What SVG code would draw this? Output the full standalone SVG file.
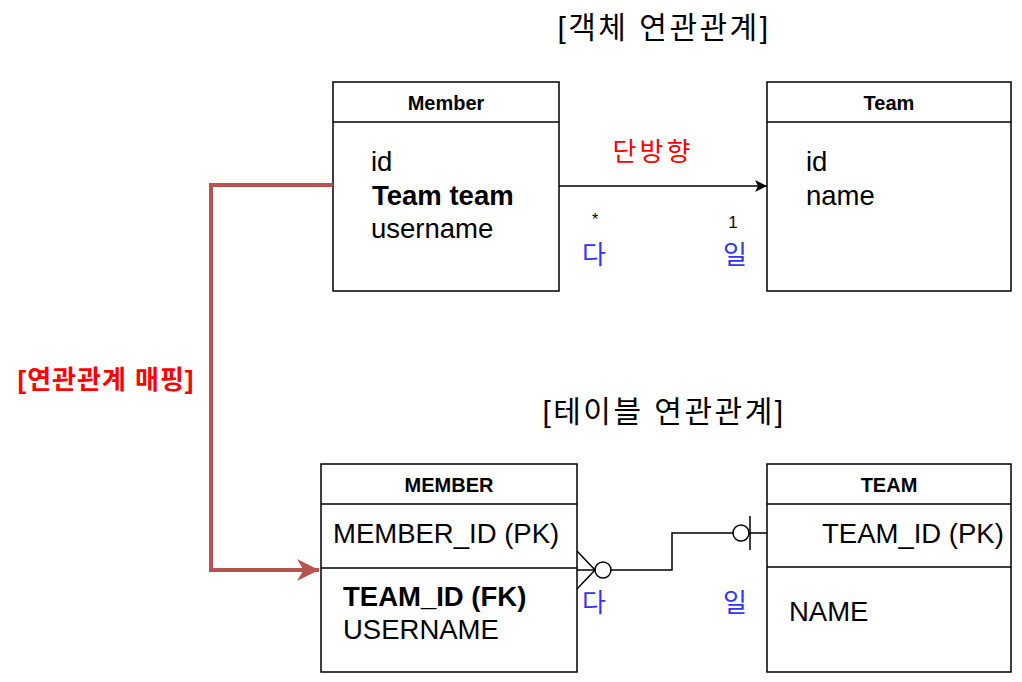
<svg xmlns="http://www.w3.org/2000/svg" width="1022" height="682" viewBox="0 0 1022 682">
<defs>
<style>
.box{fill:#fff;stroke:#000;stroke-width:1.5}
.ln{stroke:#000;stroke-width:1.5;fill:none}
.hd{font-family:"Liberation Sans",Arial,sans-serif;font-weight:bold;font-size:20px;text-anchor:middle;fill:#000}
.tx{font-family:"Liberation Sans",Arial,sans-serif;font-size:27.5px;fill:#000}
.b{font-weight:bold}
.kr{font-family:"Liberation Sans","Noto Sans CJK KR",sans-serif;font-size:26px}
.ttl{font-size:30px;letter-spacing:2.5px}
.blue{fill:#3333ff}
</style>
<marker id="ah" viewBox="0 0 10 10" refX="10" refY="5" markerWidth="12" markerHeight="12" markerUnits="userSpaceOnUse" orient="auto">
<path d="M0,0 L10,5 L0,10 L2.5,5 Z" fill="#000"/>
</marker>
<marker id="rah" viewBox="0 0 10 10" refX="10" refY="5" markerWidth="22" markerHeight="24" markerUnits="userSpaceOnUse" orient="auto">
<path d="M0,0 L10,5 L0,10 L3,5 Z" fill="#b85450"/>
</marker>
</defs>
<rect width="1022" height="682" fill="#fff"/>
<text class="kr ttl" x="664" y="38" text-anchor="middle" fill="#000">[객체 연관관계]</text>
<text class="kr ttl" x="664" y="422" text-anchor="middle" fill="#000">[테이블 연관관계]</text>
<text class="kr" x="106" y="389" text-anchor="middle" font-weight="bold" font-size="24" letter-spacing="1" fill="#ff0000">[연관관계 매핑]</text>
<g id="obj-member">
<rect class="box" x="333" y="82" width="226" height="209"/>
<line class="ln" x1="333" y1="122" x2="559" y2="122"/>
<text class="hd" x="446" y="110">Member</text>
<text class="tx" x="371" y="171">id</text>
<text class="tx b" x="372" y="205">Team team</text>
<text class="tx" x="371" y="238">username</text>
</g>
<g id="obj-team">
<rect class="box" x="767" y="82" width="244" height="209"/>
<line class="ln" x1="767" y1="122" x2="1011" y2="122"/>
<text class="hd" x="889" y="110">Team</text>
<text class="tx" x="806" y="171">id</text>
<text class="tx" x="806" y="205">name</text>
</g>
<g id="tbl-member">
<rect class="box" x="321" y="464" width="256" height="208"/>
<line class="ln" x1="321" y1="504" x2="577" y2="504"/>
<line class="ln" x1="321" y1="568" x2="577" y2="568"/>
<text class="hd" x="449" y="492">MEMBER</text>
<text class="tx" x="333" y="543">MEMBER_ID (PK)</text>
<text class="tx b" x="343" y="606">TEAM_ID (FK)</text>
<text class="tx" x="343" y="639">USERNAME</text>
</g>
<g id="tbl-team">
<rect class="box" x="767" y="464" width="244" height="208"/>
<line class="ln" x1="767" y1="504" x2="1011" y2="504"/>
<line class="ln" x1="767" y1="567" x2="1011" y2="567"/>
<text class="hd" x="889" y="492">TEAM</text>
<text class="tx" x="822" y="543">TEAM_ID (PK)</text>
<text class="tx" x="789" y="621">NAME</text>
</g>
<g id="connectors">
<line class="ln" x1="559" y1="186" x2="767" y2="186" marker-end="url(#ah)"/>
<text class="kr" x="653" y="161" text-anchor="middle" font-size="28" letter-spacing="3" fill="#ff0000">단방향</text>
<text x="595" y="225" font-family="Liberation Sans,Arial,sans-serif" font-size="16" text-anchor="middle">*</text>
<text x="733" y="228" font-family="Liberation Sans,Arial,sans-serif" font-size="17" text-anchor="middle">1</text>
<text class="kr blue" x="594" y="264" text-anchor="middle">다</text>
<text class="kr blue" x="735" y="264" text-anchor="middle">일</text>
<polyline points="333,185 211,185 211,570 319,570" fill="none" stroke="#b85450" stroke-width="4" marker-end="url(#rah)"/>
<path class="ln" d="M577,551 L595,570 L577,589 M577,570 L595,570"/>
<circle class="ln" cx="603" cy="570" r="8" fill="#fff"/>
<polyline class="ln" points="611,570 672,570 672,533 733,533"/>
<circle class="ln" cx="741" cy="533" r="8" fill="#fff"/>
<path class="ln" d="M750,516 L750,550 M749,533 L767,533"/>
<text class="kr blue" x="594" y="612" text-anchor="middle">다</text>
<text class="kr blue" x="735" y="612" text-anchor="middle">일</text>
</g>
</svg>
